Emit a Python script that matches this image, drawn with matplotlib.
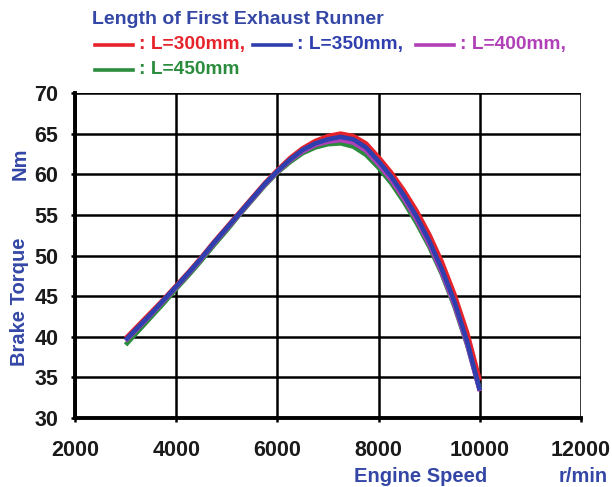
import matplotlib
matplotlib.use("Agg")
import matplotlib.pyplot as plt
from matplotlib.lines import Line2D

# Engine speed (r/min) and brake torque (Nm) for each first exhaust runner length
speed = [3000, 3250, 3500, 3750, 4000, 4250, 4500, 4750, 5000, 5250,
         5500, 5750, 6000, 6250, 6500, 6750, 7000, 7250, 7500, 7750,
         8000, 8250, 8500, 8750, 9000, 9250, 9500, 9750, 10000]
torque_300 = [39.8, 41.4, 43.0, 44.6, 46.3, 48.0, 49.8, 51.7, 53.5, 55.3,
              57.1, 58.9, 60.5, 62.0, 63.2, 64.1, 64.7, 65.0, 64.7, 63.8,
              62.1, 60.2, 58.0, 55.5, 52.6, 49.2, 45.2, 40.5, 34.6]
torque_350 = [39.6, 41.2, 42.8, 44.5, 46.2, 47.9, 49.7, 51.6, 53.4, 55.2,
              57.0, 58.8, 60.4, 61.8, 63.0, 63.8, 64.3, 64.6, 64.3, 63.3,
              61.6, 59.7, 57.4, 54.8, 51.8, 48.3, 44.3, 39.4, 33.4]
torque_400 = [39.5, 41.1, 42.7, 44.4, 46.1, 47.8, 49.6, 51.5, 53.3, 55.1,
              56.9, 58.7, 60.3, 61.7, 62.8, 63.6, 64.0, 64.2, 63.9, 62.9,
              61.2, 59.3, 57.0, 54.4, 51.4, 47.9, 43.9, 39.1, 33.3]
torque_450 = [39.0, 40.7, 42.4, 44.1, 45.9, 47.6, 49.4, 51.3, 53.1, 55.0,
              56.8, 58.6, 60.2, 61.5, 62.6, 63.3, 63.7, 63.8, 63.4, 62.4,
              60.8, 58.9, 56.6, 54.0, 51.1, 47.7, 43.7, 39.0, 33.5]

labels = ["L=300mm", "L=350mm", "L=400mm", "L=450mm"]
colors = ["#e6232b", "#2f3fae", "#b03fb8", "#2a8c3c"]
x_ticks = [2000, 4000, 6000, 8000, 10000, 12000]
y_ticks = [30, 35, 40, 45, 50, 55, 60, 65, 70]

text_blue = "#3447a6"
font = "Liberation Sans"
W, H = 612, 487

fig = plt.figure(figsize=(W / 100, H / 100), dpi=100)
ax = fig.add_axes([75 / W, 1 - 418 / H, 506 / W, 325 / H])

series = {
    labels[0]: torque_300,
    labels[3]: torque_450,
    labels[2]: torque_400,
    labels[1]: torque_350,
}
color_of = dict(zip(labels, colors))
for name, vals in series.items():
    ax.plot(speed, vals, color=color_of[name], lw=3.3, solid_capstyle="butt",
            solid_joinstyle="round", zorder=3)

ax.set_xlim(2000, 12000)
ax.set_ylim(30, 70)
ax.set_xticks(x_ticks)
ax.set_yticks(y_ticks)
ax.grid(True, color="black", lw=1.8, zorder=1)
for side in ["top", "right"]:
    ax.spines[side].set_visible(False)
for side in ["left", "bottom"]:
    ax.spines[side].set_linewidth(2.8)
ax.tick_params(axis="both", length=3, width=1.8, direction="out",
               labelsize=15.5)
ax.tick_params(axis="x", pad=13)
ax.tick_params(axis="y", pad=9)
for lab in ax.get_xticklabels() + ax.get_yticklabels():
    lab.set_fontfamily(font)
    lab.set_fontweight("bold")
    lab.set_color("#1a1a1a")

# axis captions
cap = dict(color=text_blue, fontsize=14.5, fontweight="bold", family=font,
           ha="center", va="center")
fig.text(421 / W, 1 - 477 / H, "Engine Speed", **cap)
fig.text(583 / W, 1 - 477 / H, "r/min", **cap)
fig.text(20 / W, 1 - 302 / H, "Brake Torque", rotation=90, **cap)
fig.text(20 / W, 1 - 164 / H, "Nm", rotation=90, **cap)

# legend block
fig.text(92 / W, 1 - 20 / H, "Length of First Exhaust Runner",
         color=text_blue, fontsize=14, fontweight="bold", family=font,
         ha="left", va="center")

entries = [
    (colors[0], ": " + labels[0] + ",", 95, 45),
    (colors[1], ": " + labels[1] + ",", 253, 45),
    (colors[2], ": " + labels[2] + ",", 416, 45),
    (colors[3], ": " + labels[3], 95, 70),
]
for col, txt, x0, y0 in entries:
    yy = 1 - y0 / H
    fig.add_artist(Line2D([x0 / W, (x0 + 38) / W], [yy, yy], color=col,
                          lw=2.6, transform=fig.transFigure))
    fig.text((x0 + 44) / W, yy, txt, color=col, fontsize=13.8,
             fontweight="bold", family=font, ha="left", va="center")

fig.savefig("out.png", dpi=100)
